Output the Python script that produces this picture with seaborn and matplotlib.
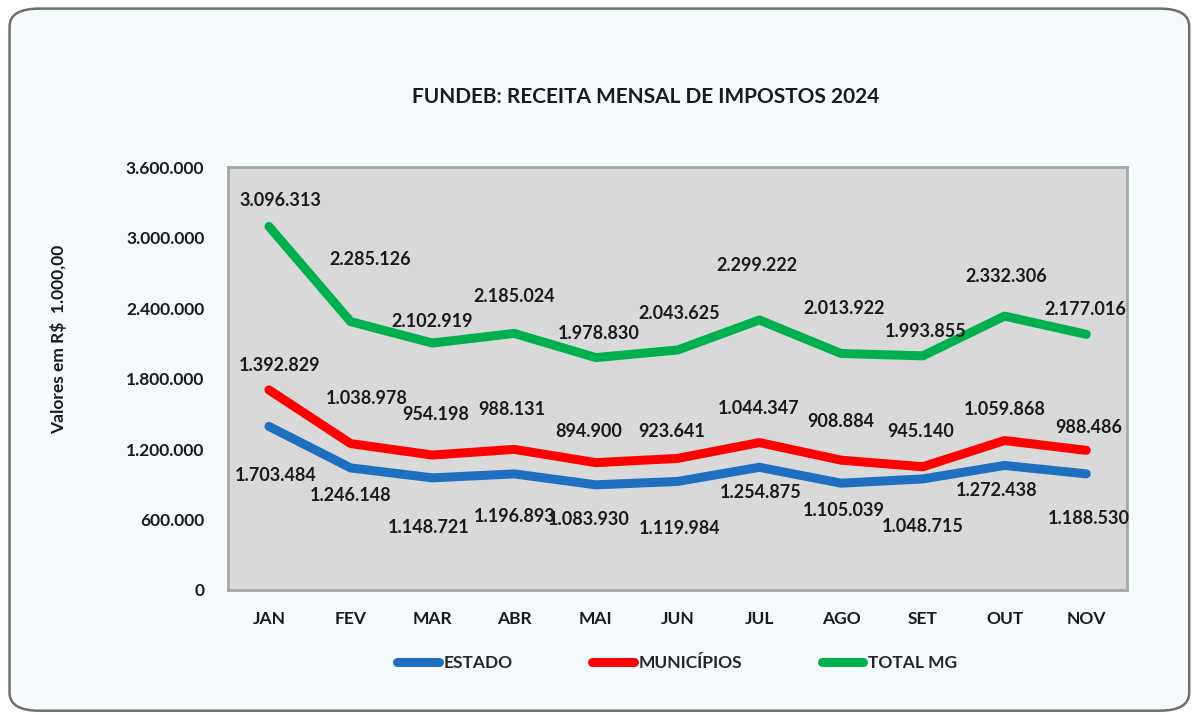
import pandas as pd
import matplotlib
matplotlib.use("Agg")
import matplotlib.pyplot as plt
from matplotlib.patches import FancyBboxPatch
from matplotlib.ticker import FuncFormatter, MultipleLocator
import seaborn as sns

# Dados (R$ 1.000,00)
meses = ["JAN", "FEV", "MAR", "ABR", "MAI", "JUN", "JUL", "AGO", "SET", "OUT", "NOV"]
estado = [1392829, 1038978, 954198, 988131, 894900, 923641, 1044347, 908884, 945140, 1059868, 988486]
municipios = [1703484, 1246148, 1148721, 1196893, 1083930, 1119984, 1254875, 1105039, 1048715, 1272438, 1188530]
total_mg = [3096313, 2285126, 2102919, 2185024, 1978830, 2043625, 2299222, 2013922, 1993855, 2332306, 2177016]

series = ["ESTADO", "MUNICÍPIOS", "TOTAL MG"]
cores = {"ESTADO": "#1f6fc0", "MUNICÍPIOS": "#ff0000", "TOTAL MG": "#00b04f"}

# deslocamento dos rótulos (pixels) em relação ao ponto de cada série
off_estado = [(11, 61), (16, 69), (3, 63), (-2, 64), (-7, 53), (-6, 50), (-1, 59), (0, 62), (-2, 47), (0, 56), (2, 46)]
off_munic = [(7, -86), (0, -52), (-4, -72), (1, -67), (-7, -57), (2, -70), (1, -50), (3, -50), (0, -60), (-8, -50), (3, -68)]
off_total = [(11, 26), (20, 62), (0, 22), (0, 37), (3, 24), (2, 36), (-2, 54), (3, 45), (3, 24), (2, 40), (-1, 25)]

df = pd.DataFrame({"Mes": meses, "ESTADO": estado, "MUNICÍPIOS": municipios, "TOTAL MG": total_mg})
longo = df.melt(id_vars="Mes", var_name="Serie", value_name="Valor")

sns.set_style("white")
plt.rcParams["font.family"] = ["Lato", "DejaVu Sans"]
plt.rcParams["font.weight"] = "bold"

fig = plt.figure(figsize=(11.94, 7.15), dpi=100)
fig.patch.set_facecolor("white")

# moldura arredondada
moldura = FancyBboxPatch((0.008, 0.006), 0.988, 0.982, boxstyle="round,pad=0,rounding_size=0.025",
                         transform=fig.transFigure, facecolor="#f5fafd", edgecolor="#6e6e6e",
                         linewidth=1.8, zorder=-10)
fig.patches.append(moldura)

ax = fig.add_axes([0.191, 0.175, 0.753, 0.591])
ax.set_facecolor("#d9d9d9")

sns.lineplot(data=longo, x="Mes", y="Valor", hue="Serie", hue_order=series, palette=cores,
             linewidth=6.5, sort=False, ax=ax, legend=False)

fmt = lambda v: f"{int(round(v)):,}".replace(",", ".")

for vals, offs in [(estado, off_estado), (municipios, off_munic), (total_mg, off_total)]:
    for i, (v, (dx, dy)) in enumerate(zip(vals, offs)):
        ax.annotate(fmt(v), (i, v), xytext=(dx, dy), textcoords="offset pixels",
                    ha="center", va="center", fontsize=13, fontweight="bold", color="#1a1a1a")

ax.set_xlim(-0.5, len(meses) - 0.5)
ax.set_ylim(0, 3600000)
ax.yaxis.set_major_locator(MultipleLocator(600000))
ax.yaxis.set_major_formatter(FuncFormatter(lambda v, p: fmt(v)))
ax.tick_params(axis="both", length=0, labelsize=12.5, colors="#1a1a1a")
ax.tick_params(axis="y", pad=17)
ax.tick_params(axis="x", pad=15)
for lab in ax.get_xticklabels() + ax.get_yticklabels():
    lab.set_fontweight("bold")
ax.set_xlabel("")
ax.set_ylabel("")
for s in ax.spines.values():
    s.set_color("#a6a6a6")
    s.set_linewidth(2)

fig.text(0.541, 0.864, "FUNDEB: RECEITA MENSAL DE IMPOSTOS 2024", ha="center", va="center",
         fontsize=15, fontweight="bold", color="#1a1a1a")
fig.text(0.049, 0.525, "Valores em R$  1.000,00", rotation=90, ha="center", va="center",
         fontsize=12.5, fontweight="bold", color="#1a1a1a")

handles = [plt.Line2D([], [], color=cores[s], linewidth=6.5, solid_capstyle="round") for s in series]
fig.legend(handles, series, loc="center", bbox_to_anchor=(0.567, 0.073), ncol=3, frameon=False,
           handlelength=2.4, handletextpad=0.25, columnspacing=4.6,
           prop={"size": 12.5, "weight": "bold"})

fig.savefig("out.png", dpi=100, facecolor=fig.get_facecolor())
